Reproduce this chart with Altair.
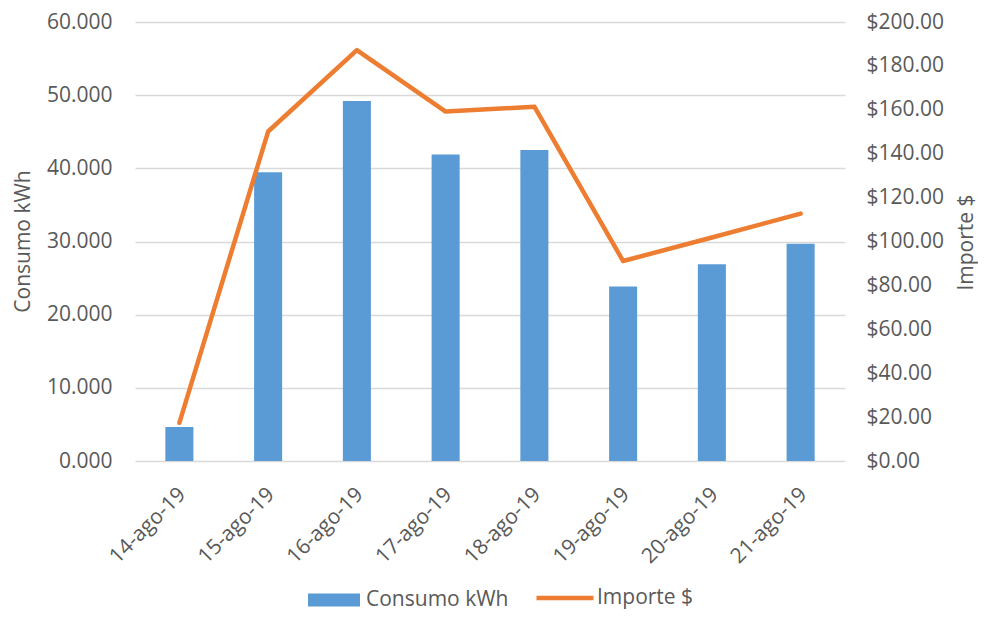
import altair as alt
import pandas as pd

fechas = ["14-ago-19", "15-ago-19", "16-ago-19", "17-ago-19",
          "18-ago-19", "19-ago-19", "20-ago-19", "21-ago-19"]
consumo_kwh = [4.63, 39.47, 49.2, 41.9, 42.5, 23.85, 26.9, 29.7]
importe = [17.4, 150.1, 187.2, 159.2, 161.4, 91.1, 101.8, 112.7]

ticks_kwh = [0, 10, 20, 30, 40, 50, 60]
ticks_importe = [0, 20, 40, 60, 80, 100, 120, 140, 160, 180, 200]

df = pd.DataFrame({"fecha": fechas, "consumo": consumo_kwh, "importe": importe})

FONT = "Open Sans"
GRAY = "#595959"
BLUE = "#5B9BD5"
ORANGE = "#ED7D31"
FS = 21

x_enc = alt.X(
    "fecha:N", sort=fechas, title=None,
    scale=alt.Scale(paddingInner=0.684, paddingOuter=0.342),
    axis=alt.Axis(labelAngle=-45, labelAlign="right", labelBaseline="middle",
                  labelPadding=30, labelOffset=3, ticks=False, domain=False,
                  grid=False),
)

base = alt.Chart(df)

bars = base.transform_calculate(serie="'Consumo kWh'").mark_bar(color=BLUE).encode(
    x=x_enc,
    y=alt.Y(
        "consumo:Q",
        scale=alt.Scale(domain=[0, 60], nice=False, zero=True),
        axis=alt.Axis(
            title="Consumo kWh", values=ticks_kwh, format=".3f",
            grid=True, gridColor="#D9D9D9", gridWidth=1.3,
            domain=False, ticks=False, labelPadding=23,
            titleAngle=270, titleX=-112, titleY=219,
            titleAlign="center", titleBaseline="middle",
        ),
    ),
    fill=alt.Fill(
        "serie:N",
        scale=alt.Scale(domain=["Consumo kWh"], range=[BLUE]),
        legend=alt.Legend(
            title=None, orient="none", legendX=173, legendY=552,
            symbolType="M-1,-0.25H1V0.25H-1Z", symbolSize=2704,
            symbolStrokeWidth=0, labelOffset=6, padding=0,
        ),
    ),
)

line = base.transform_calculate(serie="'Importe $'").mark_line(
    strokeWidth=4.5, strokeCap="round", strokeJoin="round"
).encode(
    x=x_enc,
    y=alt.Y(
        "importe:Q",
        scale=alt.Scale(domain=[0, 200], nice=False, zero=True),
        axis=alt.Axis(
            title="Importe $", orient="right", values=ticks_importe, format="$.2f",
            grid=False, domain=False, ticks=False, labelPadding=21,
            titleAngle=270, titleX=121, titleY=220,
            titleAlign="center", titleBaseline="middle",
        ),
    ),
    stroke=alt.Stroke(
        "serie:N",
        scale=alt.Scale(domain=["Importe $"], range=[ORANGE]),
        legend=alt.Legend(
            title=None, orient="none", legendX=399, legendY=545,
            symbolType="stroke", symbolSize=3249, symbolStrokeWidth=4.5,
            labelOffset=1, padding=0,
        ),
    ),
)

chart = alt.layer(bars, line).resolve_scale(
    y="independent", fill="independent", stroke="independent"
).properties(
    width=710, height=439,
    autosize=alt.AutoSizeParams(type="none"),
    padding={"left": 127, "top": 14, "right": 133, "bottom": 151},
    background="white",
).configure_view(
    stroke=None
).configure_axis(
    labelFont=FONT, labelFontSize=FS, labelColor=GRAY,
    titleFont=FONT, titleFontSize=FS, titleColor=GRAY, titleFontWeight="normal",
).configure_legend(
    labelFont=FONT, labelFontSize=FS, labelColor=GRAY,
)

chart.save("out.html", embed_options={"renderer": "svg", "actions": False})
